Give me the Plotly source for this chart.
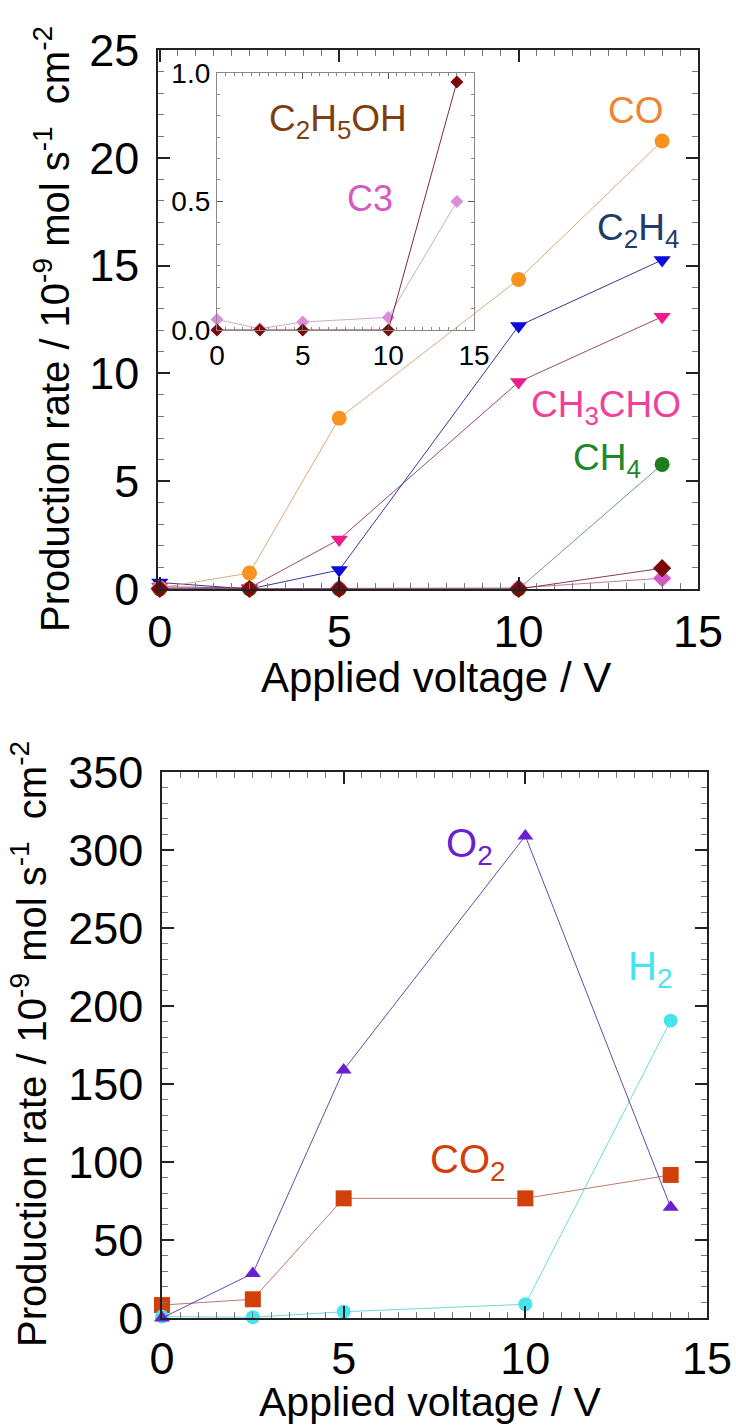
import plotly.graph_objects as go

W, H = 736, 1427

# ---- data -----------------------------------------------------------------
voltage = [0, 2.5, 5, 10, 14]

co = [0.05, 0.74, 7.92, 14.36, 20.78]
c2h4 = [0.30, 0.0, 0.88, 12.2, 15.26]
ch3cho = [0.10, 0.05, 2.30, 9.60, 12.63]
ch4 = [0.0, 0.0, 0.0, 0.0, 5.78]
c2h5oh = [0.0, 0.0, 0.0, 0.0, 0.964]
c3 = [0.041, 0.005, 0.031, 0.049, 0.499]

o2 = [0.0, 28.6, 159.0, 309.0, 71.0]
co2 = [8.3, 12.0, 76.7, 76.7, 91.7]
h2 = [0.9, 0.5, 4.0, 8.8, 190.6]

# ---- layout helpers -------------------------------------------------------
def xdom(left, right):
    return [left / W, right / W]


def ydom(top, bottom):
    return [1 - bottom / H, 1 - top / H]


FONT = "Liberation Sans, Arial, sans-serif"

fig = go.Figure()


def series(x, y, marker_color, line_color, symbol, size, xa, ya, name):
    fig.add_trace(go.Scatter(
        x=x, y=y, mode="lines+markers", name=name,
        xaxis=xa, yaxis=ya, cliponaxis=False, showlegend=False,
        line=dict(color=line_color, width=1),
        marker=dict(color=marker_color, symbol=symbol, size=size,
                    line=dict(width=0)),
    ))


# top panel (main)
series(voltage, ch4, "#1B7F1B", "rgba(60,120,80,0.75)", "circle", 15, "x", "y", "CH4")
series(voltage, c2h4, "#0A0ADC", "rgba(20,20,140,0.85)", "triangle-down", 15, "x", "y", "C2H4")
series(voltage, ch3cho, "#EC1C8C", "rgba(130,40,100,0.85)", "triangle-down", 15, "x", "y", "CH3CHO")
series(voltage, co, "#F7931E", "rgba(215,160,110,0.9)", "circle", 15, "x", "y", "CO")
series(voltage, c3, "#D65AC8", "rgba(170,90,160,0.8)", "diamond", 14, "x", "y", "C3")
series(voltage, c2h5oh, "#7A0A0A", "rgba(120,40,60,0.9)", "diamond", 14, "x", "y", "C2H5OH")

# inset
series(voltage, c3, "#DB8FDB", "rgba(200,160,200,0.9)", "diamond", 10, "x3", "y3", "C3 inset")
series(voltage, c2h5oh, "#7A0A0A", "rgba(110,20,40,0.9)", "diamond", 10, "x3", "y3", "C2H5OH inset")

# bottom panel
series(voltage, co2, "#D2400A", "rgba(170,90,70,0.8)", "square", 16, "x2", "y2", "CO2")
series(voltage, h2, "#48E4EE", "rgba(100,210,220,0.9)", "circle", 14, "x2", "y2", "H2")
series(voltage, o2, "#6A1FD0", "rgba(80,40,150,0.85)", "triangle-up", 14, "x2", "y2", "O2")


def main_axis(domain, rng, dtick, minor_dtick, anchor, standoff):
    return dict(
        domain=domain, range=rng, anchor=anchor, dtick=dtick, tick0=0,
        showline=True, linecolor="#222", linewidth=1.5, mirror="allticks",
        ticks="inside", ticklen=12, tickwidth=1.5, tickcolor="#222",
        ticklabelstandoff=standoff,
        minor=dict(dtick=minor_dtick, tick0=0, ticks="inside", ticklen=6,
                   tickwidth=1.2, tickcolor="#777"),
        showgrid=False, zeroline=False, automargin=False,
        tickfont=dict(family=FONT, size=45, color="black"),
    )


def inset_axis(domain, rng, dtick, minor_dtick, anchor):
    return dict(
        domain=domain, range=rng, anchor=anchor, dtick=dtick, tick0=0,
        showline=True, linecolor="#888", linewidth=1.2, mirror="allticks",
        ticks="inside", ticklen=6, tickwidth=1, tickcolor="#555",
        minor=dict(dtick=minor_dtick, tick0=0, ticks="inside", ticklen=3,
                   tickwidth=1, tickcolor="#888"),
        showgrid=False, zeroline=False, automargin=False,
        tickfont=dict(family=FONT, size=28, color="black"),
    )


layout = dict(
    width=W, height=H, autosize=False,
    margin=dict(l=0, r=0, t=0, b=0, pad=0),
    paper_bgcolor="white", plot_bgcolor="rgba(0,0,0,0)",
    font=dict(family=FONT, color="black"),
    xaxis=main_axis(xdom(158, 698), [-0.05, 15], 5, 0.5, "y", 2),
    yaxis=main_axis(ydom(50, 589), [0, 25], 5, 1, "x", 8),
    xaxis2=main_axis(xdom(162, 707), [0, 15], 5, 0.5, "y2", 0),
    yaxis2=main_axis(ydom(772, 1318), [0, 350], 50, 10, "x2", 8),
    xaxis3=inset_axis(xdom(217, 474), [0, 15], 5, 0.5, "y3"),
    yaxis3=inset_axis(ydom(72.7, 330), [0, 1], 0.5, 0.5 / 6, "x3"),
)
layout["yaxis3"]["tickformat"] = ".1f"
fig.update_layout(**layout)

YTITLE = "Production rate / 10<sup>-9</sup> mol s<sup>-1</sup>  cm<sup>-2</sup>"
XTITLE = "Applied voltage / V"

annotations = [
    # axis titles
    dict(text=YTITLE, textangle=-90, xref="paper", yref="paper",
         x=52 / W, y=1 - 329 / H, xanchor="center", yanchor="middle",
         showarrow=False, font=dict(size=40)),
    dict(text=XTITLE, xref="paper", yref="paper",
         x=436 / W, y=1 - 677 / H, xanchor="center", yanchor="middle",
         showarrow=False, font=dict(size=42)),
    dict(text=YTITLE, textangle=-90, xref="paper", yref="paper",
         x=29 / W, y=1 - 1044 / H, xanchor="center", yanchor="middle",
         showarrow=False, font=dict(size=40)),
    dict(text=XTITLE, xref="paper", yref="paper",
         x=430 / W, y=0, xanchor="center", yanchor="bottom",
         showarrow=False, font=dict(size=41)),
    # series labels, top panel
    dict(text="CO", x=13.28, y=22.2, xref="x", yref="y",
         showarrow=False, font=dict(size=37, color="#EE8433")),
    dict(text="C<sub>2</sub>H<sub>4</sub>", x=13.33, y=16.65, xref="x", yref="y",
         showarrow=False, font=dict(size=37, color="#1F3A6B")),
    dict(text="CH<sub>3</sub>CHO", x=12.44, y=8.44, xref="x", yref="y",
         showarrow=False, font=dict(size=37, color="#F2409A")),
    dict(text="CH<sub>4</sub>", x=12.47, y=5.98, xref="x", yref="y",
         showarrow=False, font=dict(size=37, color="#22862A")),
    # inset labels
    dict(text="C<sub>2</sub>H<sub>5</sub>OH", x=7.06, y=0.814, xref="x3", yref="y3",
         showarrow=False, font=dict(size=37, color="#7E3F10")),
    dict(text="C3", x=8.93, y=0.513, xref="x3", yref="y3",
         showarrow=False, font=dict(size=36, color="#D659C2")),
    # bottom panel labels
    dict(text="O<sub>2</sub>", x=8.46, y=302.6, xref="x2", yref="y2",
         showarrow=False, font=dict(size=40, color="#6A1FD0")),
    dict(text="H<sub>2</sub>", x=13.42, y=224, xref="x2", yref="y2",
         showarrow=False, font=dict(size=40, color="#48E4EE")),
    dict(text="CO<sub>2</sub>", x=8.42, y=100, xref="x2", yref="y2",
         showarrow=False, font=dict(size=40, color="#D2400A")),
]
fig.update_layout(annotations=annotations)

fig.write_html("out.html")
